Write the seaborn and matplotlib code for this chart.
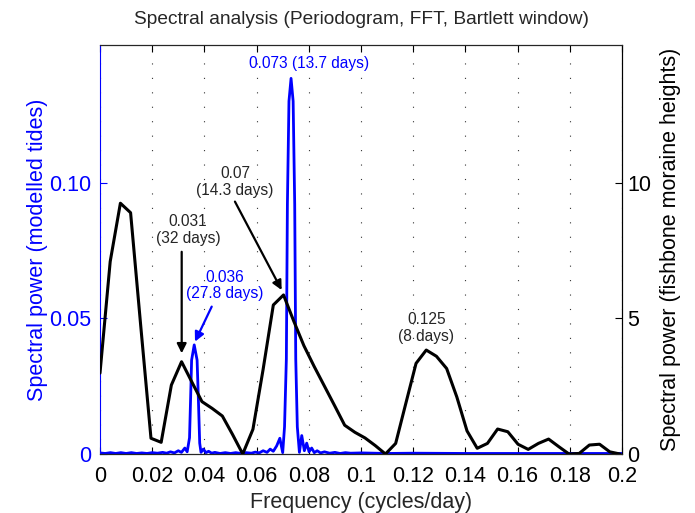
import matplotlib
matplotlib.use("Agg")
import matplotlib.pyplot as plt
import seaborn as sns
import pandas as pd

# ---------------- data ----------------
# fishbone moraine heights periodogram (right axis), frequency step 1/256 cycles/day
fish_power = [2.98, 7.09, 9.24, 8.89, 4.7, 0.58, 0.43, 2.54, 3.40, 2.66, 1.93, 1.68, 1.40,
              0.72, 0.0, 0.91, 3.12, 5.49, 5.86, 4.9, 3.99, 3.23, 2.51, 1.79, 1.06, 0.8,
              0.59, 0.31, 0.0, 0.39, 1.87, 3.34, 3.83, 3.6, 3.15, 2.1, 0.85, 0.21, 0.39,
              0.92, 0.82, 0.36, 0.17, 0.39, 0.55, 0.27, 0.0, 0.02, 0.33, 0.36, 0.08, 0.0]
fish_freq = [k / 256 for k in range(len(fish_power))]

# modelled tides periodogram (left axis)
tide_freq = [0.000, 0.002, 0.004, 0.006, 0.008, 0.010, 0.012, 0.014, 0.016, 0.018, 0.020,
             0.022, 0.024, 0.0255, 0.027, 0.0285, 0.0300, 0.0312, 0.0325, 0.0334, 0.0343,
             0.0347, 0.0351, 0.0361, 0.0372, 0.0377, 0.0382, 0.0387, 0.0396, 0.0406, 0.0416,
             0.0428, 0.044, 0.046, 0.048, 0.050, 0.052, 0.054, 0.056, 0.058, 0.0595, 0.061,
             0.0625, 0.0640, 0.0652, 0.0664, 0.0677, 0.0689, 0.0700, 0.0707, 0.0714, 0.0718,
             0.0724, 0.0732, 0.0740, 0.0746, 0.0750, 0.0756, 0.0764, 0.0773, 0.0783, 0.0792,
             0.0801, 0.0811, 0.0821, 0.0832, 0.0845, 0.086, 0.088, 0.090, 0.092, 0.094,
             0.096, 0.100, 0.110, 0.120, 0.140, 0.160, 0.180, 0.200]
tide_power = [0.0004, 0.0002, 0.0005, 0.0002, 0.0005, 0.0002, 0.0005, 0.0002, 0.0004, 0.0002,
              0.0005, 0.0003, 0.0006, 0.0003, 0.0008, 0.0004, 0.0012, 0.0006, 0.0022, 0.0008,
              0.006, 0.020, 0.0346, 0.0402, 0.0346, 0.020, 0.004, 0.0006, 0.0018, 0.0005,
              0.0010, 0.0003, 0.0006, 0.0002, 0.0005, 0.0002, 0.0005, 0.0002, 0.0005, 0.0003,
              0.0007, 0.0004, 0.0012, 0.0006, 0.0018, 0.0010, 0.0030, 0.0058, 0.0005, 0.010,
              0.035, 0.092, 0.130, 0.1384, 0.130, 0.092, 0.035, 0.010, 0.0006, 0.0068, 0.0012,
              0.0040, 0.0008, 0.0022, 0.0005, 0.0012, 0.0004, 0.0008, 0.0003, 0.0006, 0.0002,
              0.0005, 0.0003, 0.0004, 0.0002, 0.0003, 0.0002, 0.0002, 0.0002, 0.0002]

x_ticks = [0, 0.02, 0.04, 0.06, 0.08, 0.10, 0.12, 0.14, 0.16, 0.18, 0.20]
x_ticklabels = ["0", "0.02", "0.04", "0.06", "0.08", "0.1", "0.12", "0.14", "0.16", "0.18", "0.2"]
left_ticks = [0, 0.05, 0.10]
left_ticklabels = ["0", "0.05", "0.10"]
right_ticks = [0, 5, 10]
right_ticklabels = ["0", "5", "10"]

title = "Spectral analysis (Periodogram, FFT, Bartlett window)"
xlabel = "Frequency (cycles/day)"
ylabel_left = "Spectral power (modelled tides)"
ylabel_right = "Spectral power (fishbone moraine heights)"

# ---------------- style ----------------
sns.set_style("white")
plt.rcParams["font.family"] = ["Liberation Sans", "DejaVu Sans"]
FS = 15.5
TFS = 13.8
AFS = 11.2

fig = plt.figure(figsize=(6.95, 5.13), dpi=100)
ax = fig.add_axes([100 / 695, 1 - 454 / 513, (622 - 100) / 695, (454 - 44.7) / 513])
ax2 = ax.twinx()

tides = pd.DataFrame({"freq": tide_freq, "power": tide_power})
fish = pd.DataFrame({"freq": fish_freq, "power": fish_power})

sns.lineplot(data=tides, x="freq", y="power", ax=ax, color="#0000ff", lw=2.0)
sns.lineplot(data=fish, x="freq", y="power", ax=ax2, color="black", lw=2.2)

ax.set_xlim(0, 0.2)
ax.set_ylim(0, 0.1508)
ax2.set_ylim(0, 15.08)

ax.set_xticks(x_ticks)
ax.set_xticklabels(x_ticklabels, fontsize=FS)
ax.set_yticks(left_ticks)
ax.set_yticklabels(left_ticklabels, fontsize=FS, color="#0000ff")
ax2.set_yticks(right_ticks)
ax2.set_yticklabels(right_ticklabels, fontsize=FS)

ax.tick_params(axis="x", direction="in", top=True, bottom=True, length=5, width=0.8,
               pad=9, colors="black")
ax.tick_params(axis="y", direction="in", left=True, right=False, length=5, width=0.8,
               pad=6, colors="#0000ff")
ax2.tick_params(axis="y", direction="in", right=True, left=False, length=5, width=0.8,
                pad=4, colors="black")

ax.xaxis.grid(True, linestyle=(0, (1, 12)), color="#333333", lw=0.8)
ax.yaxis.grid(False)
ax2.grid(False)

for sp in ["top", "bottom", "right"]:
    ax.spines[sp].set_color("black")
    ax.spines[sp].set_linewidth(0.8)
ax.spines["left"].set_color("#0000ff")
ax.spines["left"].set_linewidth(0.8)
ax2.spines["left"].set_visible(False)
ax2.spines["right"].set_color("black")
ax2.spines["right"].set_linewidth(0.8)
ax2.spines["top"].set_linewidth(0.8)
ax2.spines["bottom"].set_linewidth(0.8)

ax.set_title(title, fontsize=TFS, pad=15)
ax.set_xlabel(xlabel, fontsize=FS, labelpad=3)
ax.set_ylabel(ylabel_left, fontsize=FS, color="#0000ff", labelpad=1)
ax2.set_ylabel(ylabel_right, fontsize=FS, color="black", rotation=90, labelpad=6)

# ---------------- annotations ----------------
arrow_k = dict(arrowstyle="-|>", color="black", lw=1.6, mutation_scale=14, shrinkA=0, shrinkB=0)
arrow_b = dict(arrowstyle="-|>", color="#0000ff", lw=1.6, mutation_scale=14, shrinkA=0, shrinkB=0)

ax2.text(0.0337, 8.24, "0.031\n(32 days)", ha="center", va="center", fontsize=AFS,
         linespacing=1.15)
ax2.annotate("", xy=(0.0313, 3.71), xytext=(0.0313, 7.45), arrowprops=arrow_k)

ax2.text(0.0517, 10.03, "0.07\n(14.3 days)", ha="center", va="center", fontsize=AFS,
         linespacing=1.15)
ax2.annotate("", xy=(0.0696, 6.04), xytext=(0.0517, 9.30), arrowprops=arrow_k)

ax2.text(0.125, 4.65, "0.125\n(8 days)", ha="center", va="center", fontsize=AFS,
         linespacing=1.15)

ax2.text(0.0479, 0.0621 * 100, "0.036\n(27.8 days)", ha="center", va="center",
         fontsize=AFS, color="#0000ff", linespacing=1.15)
ax2.annotate("", xy=(0.0364, 4.14), xytext=(0.0428, 5.43), arrowprops=arrow_b)

ax2.text(0.0800, 14.4, "0.073 (13.7 days)", ha="center", va="center", fontsize=AFS,
         color="#0000ff")

fig.savefig("out.png", dpi=100)
